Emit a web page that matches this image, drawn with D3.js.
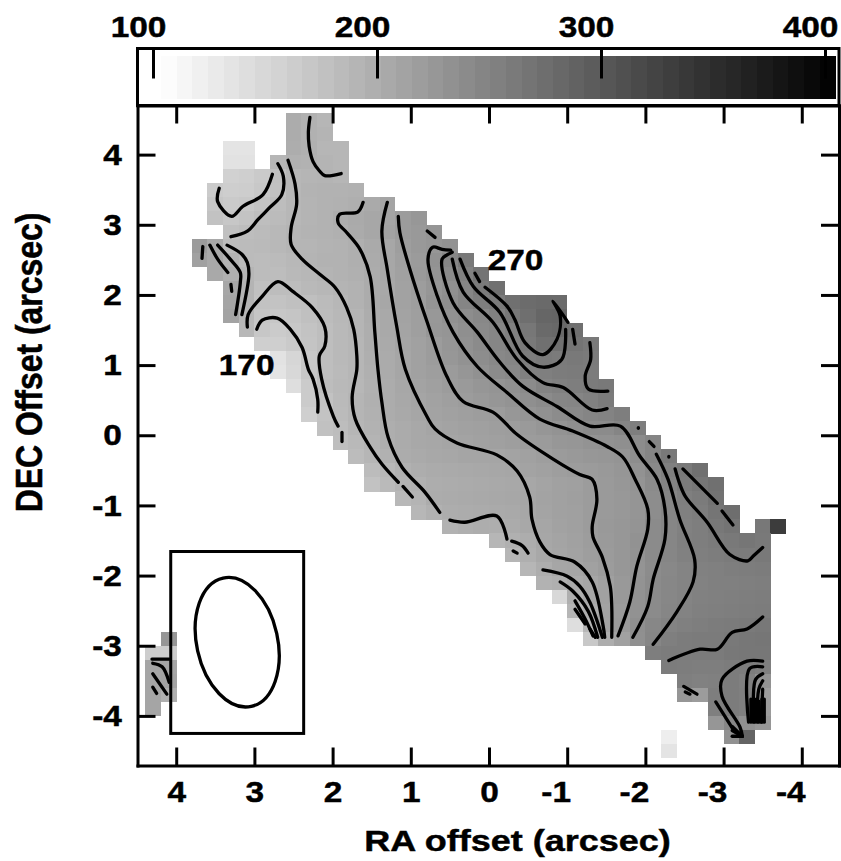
<!DOCTYPE html>
<html>
<head>
<meta charset="utf-8">
<script src="https://cdn.jsdelivr.net/npm/d3@7"></script>
<style>
html,body{margin:0;padding:0;background:#fff;}
svg{display:block;}
text{font-family:"Liberation Sans",Arial,sans-serif;font-weight:bold;fill:#000;stroke:#000;stroke-width:0.45px;}
</style>
</head>
<body>
<svg id="c" width="841" height="861"></svg>
<script>
// ---------- labels and ticks ----------
const raTicks = [4,3,2,1,0,-1,-2,-3,-4];
const decTicks = [4,3,2,1,0,-1,-2,-3,-4];
const barTicks = [100,200,300,400];
const xTitle = "RA offset (arcsec)";
const yTitle = "DEC Offset (arcsec)";
const contourLabels = [{t:"170",ra:3.1,dec:0.86},{t:"270",ra:-0.34,dec:2.35}];

// ---------- map cells: [top DEC, left RA, values along a row going to smaller RA] ----------
const cellSize = 0.2;
const cellRows = [
[4.6,2.6,[201,196,190]],
[4.4,2.6,[201,196,192]],
[4.2,3.4,[135,136]],
[4.2,2.6,[200,197,190,190]],
[4.0,3.4,[138,138]],
[4.0,2.8,[190,196,195,192,190]],
[3.8,3.4,[158,160,166,178,188,191,192,190]],
[3.6,3.6,[165,162,163,168,177,188,193,194,195,196]],
[3.4,3.6,[171,166,169,175,182,189,192,194,196,198,204,211]],
[3.2,3.6,[176,170,175,180,184,189,192,195,200,204,207,211,221,226]],
[3.0,3.4,[178,181,184,187,191,193,195,197,203,207,213,220,224,229]],
[2.8,3.8,[222,205,183,184,185,187,191,191,193,195,198,204,208,218,224,228,232]],
[2.6,3.8,[215,205,192,184,183,184,187,192,194,195,198,203,208,216,222,232,246,262]],
[2.4,3.6,[205,197,190,183,182,186,189,192,194,197,201,208,215,223,230,241,252,268]],
[2.2,3.4,[208,192,178,181,182,186,189,192,195,201,206,213,219,227,235,247,261,272]],
[2.0,3.4,[210,192,176,175,178,179,184,188,194,201,207,213,218,230,237,248,256,259,272,277,280,278]],
[1.8,3.4,[212,190,172,170,172,178,183,187,191,200,205,212,217,225,233,238,244,252,264,274,284,285]],
[1.6,3.2,[188,170,165,169,175,180,186,191,199,205,211,217,226,229,236,242,247,254,264,280,282,272]],
[1.4,3.0,[160,160,166,173,180,186,190,199,204,210,215,221,228,234,240,246,252,262,272,272,268,262]],
[1.2,2.8,[138,152,168,180,186,190,198,203,209,214,220,226,232,238,244,248,258,262,260,262,260]],
[1.0,2.8,[135,150,170,180,185,190,197,203,209,214,218,222,228,234,240,244,254,255,258,260,258]],
[0.8,2.6,[142,165,181,186,189,196,202,208,212,216,220,223,227,230,235,241,250,254,256,260,262]],
[0.6,2.4,[165,176,185,191,197,202,206,210,213,217,220,224,227,231,236,241,246,248,252,260]],
[0.4,2.4,[160,174,184,191,196,202,205,209,212,215,217,219,221,226,229,234,239,243,248,250,256]],
[0.2,2.2,[177,182,190,195,199,203,206,210,212,214,216,218,219,223,227,231,236,240,240,248,256]],
[0.0,2.0,[180,186,192,199,203,206,208,210,212,214,216,218,220,222,226,228,231,233,236,239,248]],
[-0.2,1.8,[183,190,196,201,204,206,208,210,210,210,212,214,218,222,224,226,228,230,238,248,262]],
[-0.4,1.6,[183,189,196,200,203,204,205,206,207,209,212,215,218,220,222,224,227,232,243,254,262,272]],
[-0.6,1.6,[176,185,193,196,200,202,203,204,205,206,208,211,214,216,220,223,226,230,241,250,259,265,272]],
[-0.8,1.2,[187,192,201,203,204,205,206,207,209,212,215,217,221,223,225,229,238,247,255,260,270]],
[-1.0,1.0,[188,196,200,202,203,204,205,207,211,214,216,220,223,225,229,238,246,253,257,266,275]],
[-1.2,0.6,[195,198,200,199,203,206,209,213,216,220,224,226,230,240,246,252,256,263,268]],
[-1.2,-3.4,[263,334]],
[-1.4,0.0,[190,197,200,208,211,215,219,223,226,232,241,247,253,256,259,262,265,262]],
[-1.6,-0.2,[190,198,206,210,213,218,222,226,231,240,246,252,255,257,260,260,262]],
[-1.8,-0.4,[190,200,209,210,215,221,226,230,239,244,249,252,254,256,257,258]],
[-2.0,-0.6,[195,198,204,209,216,224,231,240,245,249,251,253,254,255,256]],
[-2.2,-0.8,[150,198,207,215,224,232,240,245,249,252,254,255,256,257]],
[-2.4,-1.0,[190,200,212,222,232,240,246,250,254,255,256,257,258]],
[-2.6,-1.0,[143,190,211,223,236,245,250,253,256,258,259,261,263]],
[-2.8,-1.2,[168,200,215,235,247,255,258,259,260,262,264,265]],
[-3.0,-2.0,[256,258,258,259,260,263,264,264]],
[-3.2,-2.2,[258,257,256,256,258,258,255]],
[-3.4,-2.4,[255,252,254,258,254,232]],
[-3.6,-2.4,[227,220,256,258,255,222]],
[-3.8,-2.8,[255,258,255,222]],
[-4.0,-2.8,[227,245,235,227]],
[-4.2,-3.0,[233,286]],
[-4.2,-2.2,[124]],
[-4.4,-2.2,[135]],
[-2.8,4.2,[227]],
[-3.0,4.4,[163,163]],
[-3.2,4.4,[210,210]],
[-3.4,4.4,[210,212]],
[-3.6,4.4,[210,198]],
[-3.8,4.4,[210]]
];

// ---------- contour traces, RA/DEC pairs ----------
const contours170 = [
[[3.45,3.52],[3.47,3.33],[3.29,3.12],[3.15,3.26],[2.89,3.43],[2.77,3.72]],
[[2.97,1.51],[2.90,1.64],[2.71,1.67],[2.54,1.51],[2.39,1.25],[2.31,0.94],[2.25,0.80],[2.19,0.51],[2.19,0.33]]
];
const contours180 = [
[[2.70,3.87],[2.63,3.69],[2.65,3.43],[2.80,3.25],[2.95,3.08],[3.09,2.91],[3.30,2.83]],
[[3.09,1.54],[3.08,1.72],[2.90,1.98],[2.70,2.19],[2.51,2.05],[2.26,1.82],[2.10,1.54],[2.10,1.27],[2.17,1.13],[2.14,0.80],[1.99,0.27],[1.93,0.13]],
[[1.88,0.04],[1.88,-0.09]]
];
const contours190 = [
[[2.29,4.53],[2.31,4.32],[2.30,4.12],[2.25,3.90],[2.17,3.77],[2.10,3.70],[1.89,3.73]],
[[2.57,3.92],[2.48,3.58],[2.46,3.29],[2.53,2.96],[2.53,2.72],[2.39,2.51],[2.16,2.29],[1.97,2.11],[1.82,1.82],[1.73,1.51],[1.69,1.13],[1.69,0.94],[1.75,0.54],[1.71,0.23],[1.52,-0.17],[1.37,-0.41],[1.16,-0.67]],
[[1.10,-0.73],[0.98,-0.88]]
];
const contours200 = [
[[1.61,3.32],[1.68,3.18],[1.91,3.15],[1.93,3.03],[1.82,2.89],[1.65,2.65],[1.52,2.26],[1.46,1.47],[1.42,0.94],[1.37,0.47],[1.29,-0.03],[1.11,-0.46],[0.82,-0.81],[0.63,-1.10]],
[[0.50,-1.21],[0.31,-1.24],[-0.10,-1.15],[-0.23,-1.48]],
[[-0.29,-1.51],[-0.42,-1.57],[-0.50,-1.68]],
[[-0.31,-1.65],[-0.36,-1.68]]
];
const contours210 = [
[[1.30,3.32],[1.37,2.91],[1.30,2.36],[1.18,1.55],[1.07,0.94],[0.79,0.26],[0.69,0.09],[0.41,-0.11],[-0.10,-0.28],[-0.36,-0.51],[-0.52,-0.88],[-0.55,-1.20],[-0.65,-1.52],[-0.78,-1.70],[-1.10,-1.81],[-1.32,-2.09],[-1.46,-2.72],[-1.48,-2.88]]
];
const contours220 = [
[[1.16,3.12],[1.14,2.89],[1.01,2.36],[0.79,1.61],[0.54,0.84],[0.33,0.48],[-0.05,0.33],[-0.36,0.01],[-0.82,-0.34],[-1.16,-0.56],[-1.32,-0.63],[-1.38,-0.91],[-1.32,-1.30],[-1.33,-1.45],[-1.45,-1.74],[-1.55,-2.15],[-1.57,-2.44],[-1.57,-2.88]],
[[0.79,2.91],[0.69,2.82]]
];
const contours230 = [
[[0.49,2.64],[0.60,2.65],[0.72,2.68],[0.78,2.51],[0.66,1.98],[0.46,1.47],[0.15,0.98],[-0.23,0.61],[-0.65,0.23],[-1.07,0.06],[-1.51,-0.16],[-1.71,-0.31],[-1.87,-0.63],[-2.03,-1.05],[-2.03,-1.34],[-1.89,-1.87],[-1.80,-2.38],[-1.65,-2.86]]
];
const contours240 = [
[[0.47,2.61],[0.52,2.58],[0.60,2.51],[0.46,1.89],[0.15,1.47],[-0.14,1.04],[-0.43,0.70],[-0.87,0.41],[-1.29,0.13],[-1.68,0.13],[-1.93,-0.30],[-2.15,-0.63],[-2.25,-1.05],[-2.25,-1.48],[-2.10,-2.05],[-2.03,-2.44],[-1.84,-2.88]]
];
const contours250 = [
[[0.47,2.51],[0.33,2.04],[-0.05,1.61],[-0.36,1.08],[-0.69,0.75],[-0.95,0.68],[-1.32,0.36],[-1.51,0.38]],
[[-2.14,-0.27],[-2.29,-0.63],[-2.44,-1.20],[-2.63,-1.77],[-2.61,-2.09],[-2.40,-2.52],[-2.10,-2.98]],
[[-3.50,-3.22],[-3.30,-3.22],[-2.98,-3.48],[-2.98,-3.72],[-3.21,-4.16],[-3.24,-4.29]],
[[-2.90,-3.80],[-3.12,-4.19]]
];
const contours260 = [
[[0.37,2.51],[0.20,2.12],[-0.14,1.75],[-0.43,1.13],[-0.69,0.97],[-0.93,1.08],[-0.98,1.51]],
[[-2.38,-0.48],[-2.42,-0.63],[-2.51,-0.87],[-2.79,-1.24],[-3.08,-1.70],[-3.31,-1.79],[-3.38,-1.72],[-3.50,-1.60]],
[[-3.50,-2.59],[-3.30,-2.76],[-3.11,-2.81],[-2.92,-3.05],[-2.70,-3.05],[-2.30,-3.21]]
];
const contours270 = [
[[0.18,2.31],[0.12,2.19]],
[[0.05,2.11],[-0.23,1.84],[-0.33,1.65],[-0.46,1.32],[-0.69,1.15],[-0.87,1.37],[-0.91,1.70],[-0.82,1.91],[-1.01,1.61]],
[[-1.07,1.51],[-1.10,1.30]],
[[-1.29,1.32],[-1.30,1.08],[-1.23,0.84],[-1.27,0.66],[-1.52,0.63]],
[[-2.48,-0.48],[-2.92,-0.97]],
[[-2.98,-1.08],[-3.12,-1.28]]
];
const contourFragments = [
[[-1.91,0.11],[-1.91,0.10]],
[[-2.05,-0.09],[-2.11,-0.16]],
[[-2.30,-0.30],[-2.30,-0.31]],
[[3.66,2.69],[3.67,2.52]],
[[3.57,2.71],[3.47,2.51],[3.34,2.32]],
[[3.47,2.71],[3.31,2.51],[3.18,2.32],[3.18,2.18],[3.24,1.72]],
[[3.35,2.71],[3.16,2.58],[3.09,2.46],[3.07,2.29],[3.16,1.72]],
[[3.30,2.15],[3.29,2.05]],
[[4.31,-3.19],[4.09,-3.19]],
[[4.30,-3.25],[4.18,-3.30],[4.09,-3.52]],
[[4.30,-3.40],[4.12,-3.69]],
[[4.30,-3.59],[4.25,-3.68]],
[[-0.69,-1.92],[-1.00,-2.01],[-1.16,-2.15],[-1.29,-2.38],[-1.45,-2.88]],
[[-0.91,-2.09],[-1.07,-2.22],[-1.27,-2.51],[-1.39,-2.88]],
[[-1.10,-2.36],[-1.23,-2.62],[-1.33,-2.86]],
[[-1.10,-2.48],[-1.23,-2.69]],
[[-1.29,-2.76],[-1.36,-2.88]],
[[-2.49,-3.58],[-2.66,-3.69]],
[[-2.51,-3.66],[-2.57,-3.69]],
[[-3.11,-4.15],[-3.24,-4.29]],
[[-3.11,-4.21],[-3.24,-4.29]],
[[-3.11,-4.29],[-3.24,-4.29]],
[[-3.50,-3.30],[-3.33,-3.33],[-3.32,-4.09]],
[[-3.50,-3.40],[-3.41,-3.48],[-3.38,-3.76],[-3.38,-4.09]],
[[-3.50,-3.50],[-3.45,-3.62],[-3.43,-4.09]],
[[-3.50,-3.62],[-3.48,-4.09]],
[[-3.52,-3.76],[-3.52,-4.09]],
[[-3.35,-3.76],[-3.35,-4.09]],
[[-3.40,-3.76],[-3.40,-4.09]],
[[-3.45,-3.79],[-3.45,-4.09]],
[[-3.49,-3.76],[-3.49,-4.09]]
];
const allContours = [contours170,contours180,contours190,contours200,contours210,contours220,contours230,contours240,contours250,contours260,contours270,contourFragments];

// ---------- colour wedge and beam inset ----------
const grayMin = 103.6, grayMax = 404.6, wedgeStep = 7;
const beamBox = {ra0:4.07, ra1:2.37, dec0:-1.657, dec1:-4.25};
const beam = {ra:3.22, dec:-2.95, semiMinorRA:0.518, semiMajorDEC:0.936, tilt:-12.4};

// ---------- layout ----------
const L = 137.5, R = 839, T = 105.5, B = 765.5, WT = 48.5;
const stretch = 1.114, titleStretch = 1.2, titleAlong = 1.064, fs = 30, lw = 3, contourW = 3.3;
const svg = d3.select("#c");
const x = d3.scaleLinear().domain([4.495,-4.476]).range([L,R]);
const y = d3.scaleLinear().domain([4.70,-4.707]).range([T,B]);
const wedgeX = d3.scaleLinear().domain([100,400]).range([153,825]);
const gray = d3.scaleLinear().domain([grayMin,grayMax]).range([255,0]).clamp(true);
const col = v => { const g = Math.round(gray(v)); return `rgb(${g},${g},${g})`; };

// cells
const cells = [];
cellRows.forEach(([dec,ra,vals]) => vals.forEach((v,i) => cells.push({dec, ra: ra - i*cellSize, v})));
svg.append("g").attr("shape-rendering","crispEdges").selectAll("rect").data(cells).join("rect")
  .attr("x", d => x(d.ra)).attr("y", d => y(d.dec))
  .attr("width", d => x(d.ra - cellSize) - x(d.ra) + 0.3)
  .attr("height", d => y(d.dec - cellSize) - y(d.dec) + 0.3)
  .attr("fill", d => col(d.v));

// contours
const line = d3.line().x(d => x(d[0])).y(d => y(d[1])).curve(d3.curveCatmullRom.alpha(0.5));
svg.append("g").attr("fill","none").attr("stroke","#000").attr("stroke-width",contourW)
  .attr("stroke-linecap","round").attr("stroke-linejoin","round")
  .selectAll("path").data(allContours.flat()).join("path").attr("d", line);

// beam inset
svg.append("rect").attr("x",x(beamBox.ra0)).attr("y",y(beamBox.dec0))
  .attr("width",x(beamBox.ra1)-x(beamBox.ra0)).attr("height",y(beamBox.dec1)-y(beamBox.dec0))
  .attr("fill","none").attr("stroke","#000").attr("stroke-width",lw);
svg.append("ellipse")
  .attr("rx", x(0)-x(beam.semiMinorRA)).attr("ry", y(0)-y(beam.semiMajorDEC))
  .attr("transform",`translate(${x(beam.ra)},${y(beam.dec)}) rotate(${beam.tilt})`)
  .attr("fill","none").attr("stroke","#000").attr("stroke-width",contourW);

// wedge
const wedgeVals = d3.range(grayMin, grayMax - 0.01, wedgeStep);
svg.append("g").attr("shape-rendering","crispEdges").selectAll("rect").data(wedgeVals).join("rect")
  .attr("x", d => wedgeX(d)).attr("y",55.5)
  .attr("width", wedgeX(wedgeStep)-wedgeX(0)+0.3).attr("height",43.5)
  .attr("fill", d => col(d + wedgeStep/2));
const wedgeAxis = svg.append("g").attr("transform",`translate(0,${WT})`)
  .call(d3.axisTop(wedgeX).tickValues(barTicks).tickSizeInner(-30).tickSizeOuter(0).tickPadding(11.5).tickFormat(String));
wedgeAxis.select(".domain").remove();
wedgeAxis.selectAll("text").attr("transform",`translate(-15,0) scale(${stretch},1)`);
svg.append("rect").attr("x",L).attr("y",WT).attr("width",R-L).attr("height",T-WT)
  .attr("fill","none").attr("stroke","#000").attr("stroke-width",lw);

// axes
const fmt = d => String(d);
const bottom = svg.append("g").attr("transform",`translate(0,${B})`)
  .call(d3.axisBottom(x).tickValues(raTicks).tickSizeInner(-18).tickSizeOuter(0).tickPadding(15.5).tickFormat(fmt));
bottom.selectAll("text").attr("transform", d => `translate(${d<0?-11.5:0},0) scale(${stretch},1)`);
const left = svg.append("g").attr("transform",`translate(${L},0)`)
  .call(d3.axisLeft(y).tickValues(decTicks).tickSizeInner(-18).tickSizeOuter(0).tickPadding(14).tickFormat(fmt));
left.selectAll("text").attr("transform",`scale(${stretch},1)`);
const top_ = svg.append("g").attr("transform",`translate(0,${T})`)
  .call(d3.axisTop(x).tickValues(raTicks).tickSizeInner(-18).tickSizeOuter(0).tickFormat(""));
const right = svg.append("g").attr("transform",`translate(${R},0)`)
  .call(d3.axisRight(y).tickValues(decTicks).tickSizeInner(-18).tickSizeOuter(0).tickFormat(""));
svg.selectAll(".domain").attr("stroke","#000").attr("stroke-width",lw).attr("stroke-linecap","square");
svg.selectAll(".tick line").attr("stroke","#000").attr("stroke-width",lw);
svg.selectAll(".tick text").attr("font-size",fs).attr("font-family",'"Liberation Sans",Arial,sans-serif').attr("font-weight","bold").attr("fill","#000");

// titles
svg.append("text").attr("transform",`translate(517.5,851) scale(${titleStretch},1)`)
  .attr("text-anchor","middle").attr("font-size",fs).text(xTitle);
svg.append("text").attr("transform",`translate(42,362.5) rotate(-90) scale(${titleAlong},${titleStretch})`)
  .attr("text-anchor","middle").attr("font-size",fs).text(yTitle);

// contour labels
svg.selectAll(".cl").data(contourLabels).join("text").attr("class","cl")
  .attr("transform", d => `translate(${x(d.ra)},${y(d.dec)}) scale(${stretch},1)`)
  .attr("text-anchor","middle").attr("font-size",fs).text(d => d.t);
</script>
</body>
</html>
